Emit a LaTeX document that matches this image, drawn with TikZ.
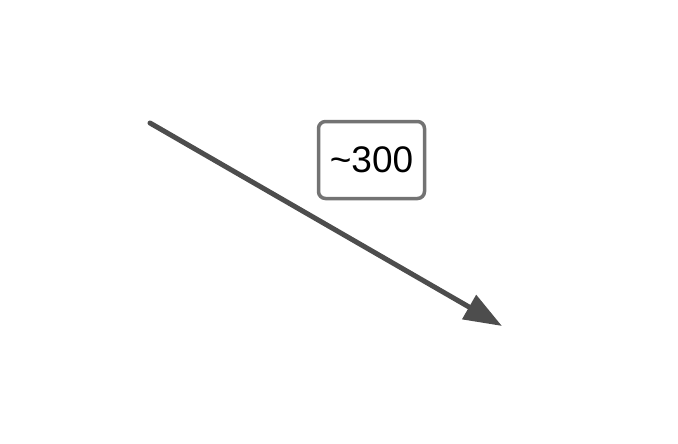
\documentclass[tikz,border=0pt]{standalone}
\usepackage{fontspec}
\setmainfont{Liberation Sans}
\usetikzlibrary{arrows.meta}
\definecolor{arrowgray}{HTML}{4D4D4D}
\definecolor{boxgray}{HTML}{737373}
\tikzset{
  edgelabel/.style={draw=boxgray,line width=3.5pt,rounded corners=7pt,fill=white,
    minimum width=106pt,minimum height=77pt,inner sep=0pt,font=\fontsize{37}{42}\selectfont},
  flowarrow/.style={draw=arrowgray,line width=5pt,line cap=round,
    -{Triangle[length=38pt,width=27pt]}}
}
\begin{document}
\begin{tikzpicture}[x=1pt,y=-1pt]
\useasboundingbox (0,0) rectangle (678,444);
\coordinate (src) at (150,123);
\coordinate (dst) at (502,326);
\draw[flowarrow] (src) -- (dst);
\node[edgelabel] (count) at (371.5,160) {\char`\~300};
\end{tikzpicture}
\end{document}
